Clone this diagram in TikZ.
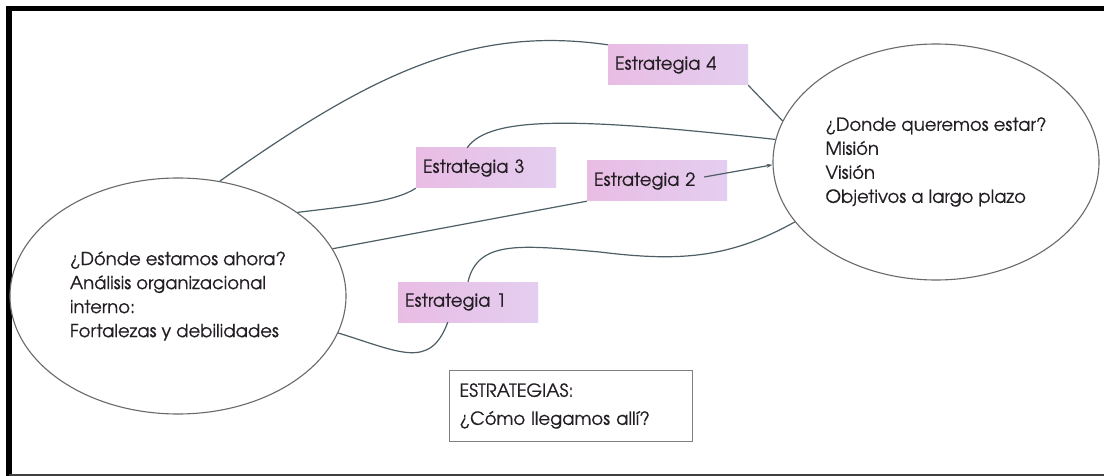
\documentclass[tikz,border=0pt]{standalone}
\usepackage{fontspec}
\setmainfont[FakeBold=0.6]{TeX Gyre Adventor}
\usetikzlibrary{shapes.geometric,arrows.meta}
\definecolor{rosa}{RGB}{233,188,228}
\definecolor{lila}{RGB}{228,206,240}
\definecolor{trazo}{RGB}{78,94,102}
\definecolor{borde}{RGB}{105,105,105}
\definecolor{tinta}{RGB}{35,30,35}

\begin{document}
\begin{tikzpicture}[x=1pt, y=-1pt,
		every node/.style={text=tinta, font=\fontsize{18}{24}\selectfont},
		meta/.style={ellipse, draw=borde, line width=1.1pt, fill=white, inner sep=0pt, align=left},
		estrategia/.style={left color=rosa, right color=lila, text width=126pt, inner sep=7pt, minimum height=40pt, align=left},
		camino/.style={draw=trazo, line width=1.2pt}]
		\useasboundingbox (0,0) rectangle (1104,476);
		\fill[white] (0,0) rectangle (1104,476);
		\draw[line width=5.5pt] (1104,8.5) -- (9,8.5) -- (9,476);
		\draw[darkgray, line width=1.5pt] (9,475.2) -- (1104,475.2);

		\node[meta, minimum width=336pt, minimum height=236pt] (ahora) at (178,296)
			{¿Dónde estamos ahora?\\Análisis organizacional\\interno:\\Fortalezas y debilidades};
		\node[meta, minimum width=326pt, minimum height=236pt] (plazo) at (936,162)
			{¿Donde queremos estar?\\Misión\\Visión\\Objetivos a largo plazo};

		\node[estrategia] (e4) at (678,65) {Estrategia 4};
		\node[estrategia] (e3) at (486,168) {Estrategia 3};
		\node[estrategia] (e2) at (657,181) {Estrategia 2};
		\node[estrategia] (e1) at (468,302) {Estrategia 1};

		\node[draw=gray, line width=0.8pt, fill=white, text width=223pt, inner sep=10pt,
			minimum height=71pt, align=left, font=\fontsize{18}{28}\selectfont] (como) at (571,406)
			{ESTRATEGIAS:\\¿Cómo llegamos allí?};

		% estrategia 4
		\draw[camino] (ahora.70) .. controls (370,75) and (470,25) .. (e4.north west);
		\draw[camino] (e4.south east) -- (plazo.165);
		% estrategia 3
		\draw[camino] (ahora.35) .. controls (350,206) and (395,202) .. (e3.south west);
		\draw[camino] (e3.133) .. controls (490,115) and (580,118) .. (plazo.172);
		% estrategia 2
		\draw[camino] (ahora.17) -- (e2.south west);
		\draw[camino, -{Stealth[length=6pt, width=4pt]}] ([xshift=-23pt, yshift=4pt]e2.east) -- (plazo.181);
		% estrategia 1
		\draw[camino] (ahora.-13) .. controls (400,352) and (430,370) .. (e1.225);
		\draw[camino] (e1.north) .. controls (478,240) and (520,245) .. (600,252)
			.. controls (680,262) and (730,258) .. (plazo.203);
	\end{tikzpicture}
\end{document}
